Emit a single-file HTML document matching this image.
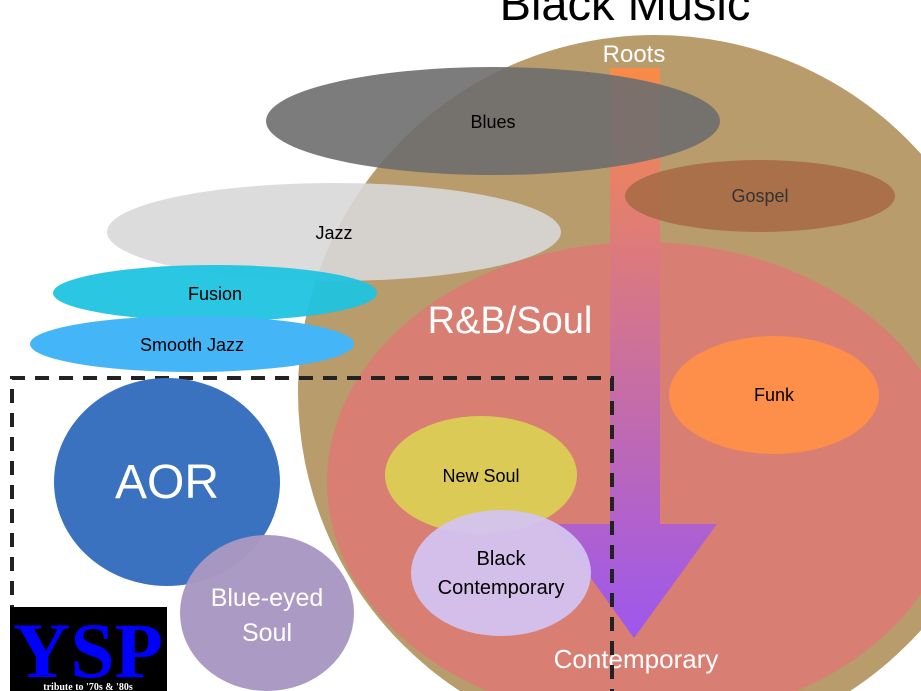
<!DOCTYPE html><html><head><style>html,body{margin:0;background:#fff;overflow:hidden;width:921px;height:691px}svg{display:block}text{font-family:"Liberation Sans",sans-serif}</style></head><body>
<svg width="921" height="691" viewBox="0 0 921 691" xmlns="http://www.w3.org/2000/svg" style="overflow:hidden">
<defs><linearGradient id="g" x1="0" y1="0" x2="0" y2="1"><stop offset="0" stop-color="#fd8a44"/><stop offset="1" stop-color="#9a55f5"/></linearGradient></defs>
<text x="625" y="20" font-size="47" text-anchor="middle" fill="#000">Black Music</text>
<circle cx="655" cy="392" r="357" fill="#b89c6b"/>
<ellipse cx="642" cy="482" rx="315" ry="240" fill="#d97e72"/>
<text x="634" y="62" font-size="24" fill="#fff" text-anchor="middle">Roots</text>
<path d="M610 68H660V524H717L634 638L552 524H610Z" fill="url(#g)" opacity="0.95"/>
<ellipse cx="493" cy="121" rx="227" ry="54" fill="#6e6e6e" opacity="0.9"/>
<text x="493" y="128" font-size="18" text-anchor="middle">Blues</text>
<ellipse cx="760" cy="196" rx="135" ry="36" fill="#a86b46" opacity="0.9"/>
<text x="760" y="202" font-size="18" text-anchor="middle" fill="#333">Gospel</text>
<ellipse cx="334" cy="232" rx="227" ry="49" fill="#d8d8d8" opacity="0.9"/>
<text x="334" y="239" font-size="18" text-anchor="middle">Jazz</text>
<ellipse cx="215" cy="293" rx="162" ry="28" fill="#1fc3e0" opacity="0.95"/>
<text x="215" y="300" font-size="18" text-anchor="middle">Fusion</text>
<ellipse cx="192" cy="344" rx="162" ry="28" fill="#44b6f8"/>
<text x="192" y="351" font-size="18" text-anchor="middle">Smooth Jazz</text>
<text x="510" y="333" font-size="38" fill="#fff" text-anchor="middle">R&amp;B/Soul</text>
<ellipse cx="774" cy="395" rx="105" ry="59" fill="#fd8f4a"/>
<text x="774" y="401" font-size="18" text-anchor="middle">Funk</text>
<ellipse cx="481" cy="475" rx="96" ry="59" fill="#dccf55" opacity="0.95"/>
<text x="481" y="482" font-size="18" text-anchor="middle">New Soul</text>
<ellipse cx="501" cy="573" rx="90" ry="63" fill="#d3c3f0" opacity="0.95"/>
<text x="501" y="565" font-size="20" text-anchor="middle">Black</text>
<text x="501" y="594" font-size="20" text-anchor="middle">Contemporary</text>
<text x="636" y="668" font-size="26" fill="#fff" text-anchor="middle">Contemporary</text>
<path d="M12 691V378H612V691" fill="none" stroke="#222" stroke-width="4" stroke-dasharray="14,10"/>
<ellipse cx="167" cy="482" rx="113" ry="104" fill="#3a72bf"/>
<text x="167" y="498" font-size="48" fill="#fff" text-anchor="middle">AOR</text>
<ellipse cx="267" cy="613" rx="87" ry="78" fill="#a898c2" opacity="0.97"/>
<text x="267" y="606" font-size="25" fill="#fff" text-anchor="middle">Blue-eyed</text>
<text x="267" y="641" font-size="25" fill="#fff" text-anchor="middle">Soul</text>
<rect x="10" y="607" width="157" height="84" fill="#000"/>
<text x="88" y="677" font-size="78" font-weight="bold" fill="#0000ff" text-anchor="middle" textLength="150" lengthAdjust="spacingAndGlyphs" style="font-family:'Liberation Serif',serif">YSP</text>
<text x="88" y="690" font-size="10" font-weight="bold" fill="#fff" text-anchor="middle" style="font-family:'Liberation Serif',serif">tribute to '70s &amp; '80s</text>
</svg></body></html>
